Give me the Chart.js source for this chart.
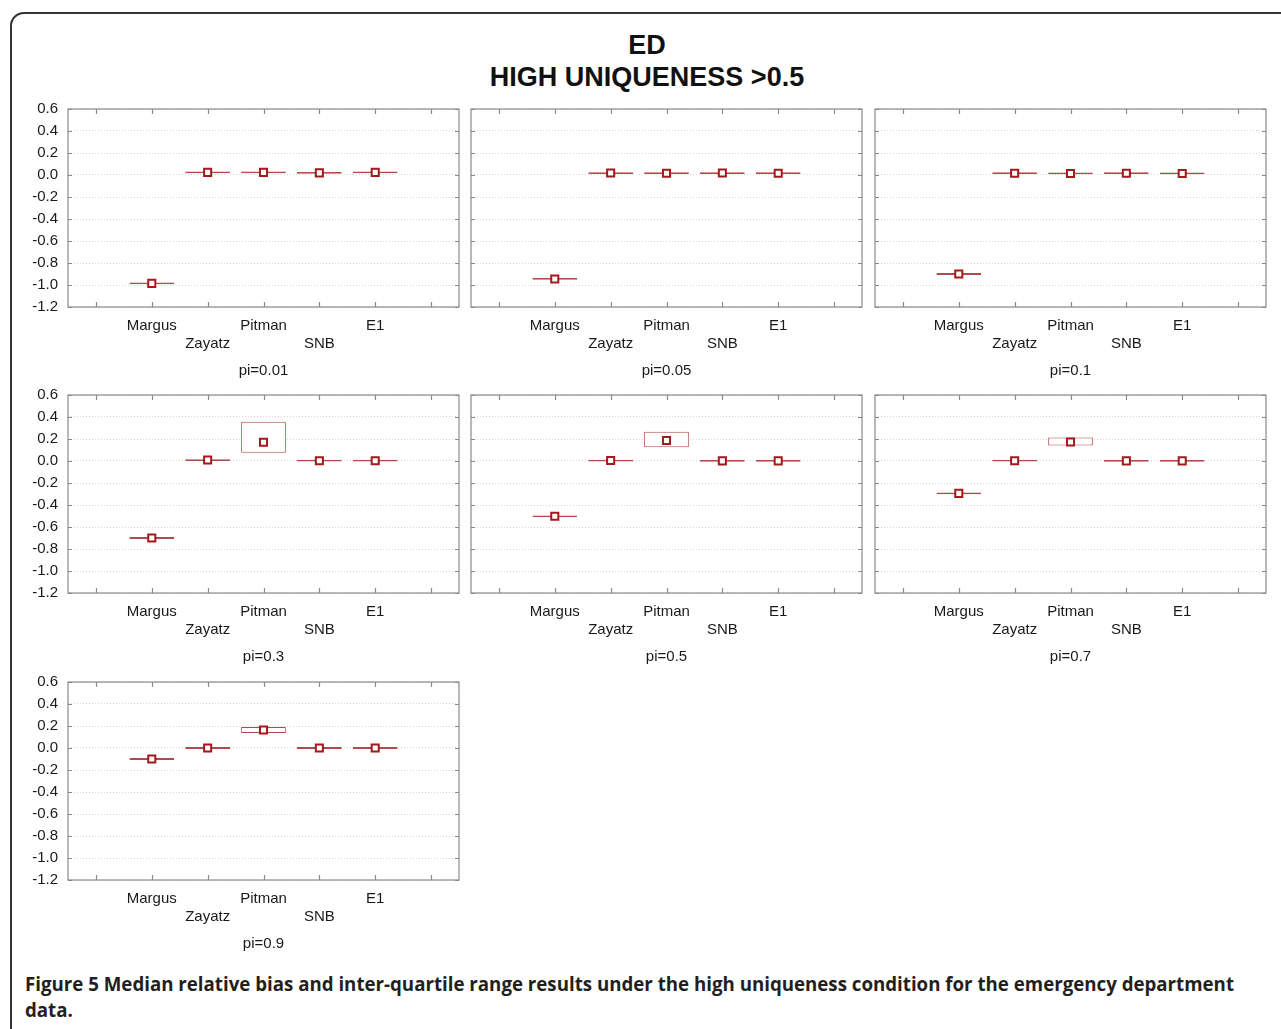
<!DOCTYPE html>
<html>
<head>
<meta charset="utf-8">
<script src="https://cdn.jsdelivr.net/npm/chart.js@4/dist/chart.umd.min.js"></script>
<style>
  html, body { margin: 0; padding: 0; background: #fff; }
  body { width: 1281px; height: 1029px; position: relative; overflow: hidden; }
  .frame {
    position: absolute; left: 10px; top: 12px; width: 1320px; height: 1060px;
    border: 2px solid #333; border-radius: 14px; box-sizing: border-box;
  }
  .title {
    position: absolute; left: 0; width: 1294px; text-align: center;
    font: bold 27px "Liberation Sans", Arial, sans-serif; color: #111;
  }
  canvas { position: absolute; }
  .caption {
    position: absolute; left: 25px; top: 971px; width: 1256px;
    font: 700 18.7px "Open Sans", sans-serif; line-height: 26px; color: #231f20;
    white-space: nowrap;
  }
</style>
</head>
<body>
<div class="frame"></div>
<div class="title" style="top:30px">ED</div>
<div class="title" style="top:62px">HIGH UNIQUENESS &gt;0.5</div>
<div id="panels"></div>
<div class="caption">Figure 5 Median relative bias and inter-quartile range results under the high uniqueness condition for the emergency department<br>data.</div>

<script>
// categories (blank slots at both ends of each axis)
const methods = ['Margus', 'Zayatz', 'Pitman', 'SNB', 'E1'];
const piLabels = ['pi=0.01', 'pi=0.05', 'pi=0.1', 'pi=0.3', 'pi=0.5', 'pi=0.7', 'pi=0.9'];
const yTicks = [0.6, 0.4, 0.2, 0.0, -0.2, -0.4, -0.6, -0.8, -1.0, -1.2];

// median relative bias, one row per panel
const medians = [
  [-0.985, 0.024, 0.024, 0.019, 0.024],
  [-0.945, 0.018, 0.016, 0.018, 0.016],
  [-0.900, 0.016, 0.014, 0.016, 0.014],
  [-0.700, 0.009, 0.170, 0.003, 0.003],
  [-0.503, 0.004, 0.187, 0.001, 0.001],
  [-0.294, 0.003, 0.173, 0.001, 0.001],
  [-0.100, 0.000, 0.164, 0.000, 0.000]
];
// 25th percentile
const lowerQ = [
  [-0.993, 0.016, 0.016, 0.011, 0.016],
  [-0.953, 0.010, 0.008, 0.010, 0.008],
  [-0.908, 0.008, 0.006, 0.008, 0.006],
  [-0.708, 0.001, 0.075, -0.005, -0.005],
  [-0.511, -0.004, 0.126, -0.007, -0.007],
  [-0.302, -0.005, 0.140, -0.007, -0.007],
  [-0.108, -0.008, 0.136, -0.008, -0.008]
];
// 75th percentile
const upperQ = [
  [-0.977, 0.032, 0.032, 0.027, 0.032],
  [-0.937, 0.026, 0.024, 0.026, 0.024],
  [-0.892, 0.024, 0.022, 0.024, 0.022],
  [-0.692, 0.017, 0.357, 0.011, 0.011],
  [-0.495, 0.012, 0.266, 0.009, 0.009],
  [-0.286, 0.011, 0.213, 0.009, 0.009],
  [-0.092, 0.008, 0.190, 0.008, 0.008]
];

const FONT = '"Liberation Sans", Arial, sans-serif';
const colLefts = [68, 471, 875];
const rowTops = [109, 395, 682];
const AREA_W = 392, AREA_H = 198;
const Y_W = 38;

// frame and inward tick marks, like the original plot boxes
const framePlugin = {
  id: 'frame',
  afterDraw(chart) {
    const { ctx, chartArea: a, scales } = chart;
    ctx.save();
    ctx.strokeStyle = '#8a8a8a';
    ctx.lineWidth = 1.2;
    ctx.strokeRect(a.left, a.top, a.right - a.left, a.bottom - a.top);
    ctx.beginPath();
    for (let i = 0; i < scales.x.ticks.length; i++) {
      const px = Math.round(scales.x.getPixelForTick(i)) + 0.5;
      ctx.moveTo(px, a.top); ctx.lineTo(px, a.top + 5);
      ctx.moveTo(px, a.bottom); ctx.lineTo(px, a.bottom - 5);
    }
    yTicks.forEach(v => {
      const py = Math.round(scales.y.getPixelForValue(v)) + 0.5;
      ctx.moveTo(a.left, py); ctx.lineTo(a.left + 4, py);
      ctx.moveTo(a.right, py); ctx.lineTo(a.right - 4, py);
    });
    ctx.stroke();
    ctx.restore();
  }
};

function makePanel(p) {
  const col = p % 3, row = Math.floor(p / 3);
  const canvas = document.createElement('canvas');
  const w = Y_W + AREA_W + 6, h = 9 + AREA_H + 78;
  canvas.width = w; canvas.height = h;
  canvas.style.left = (colLefts[col] - Y_W) + 'px';
  canvas.style.top = (rowTops[row] - 9) + 'px';
  document.getElementById('panels').appendChild(canvas);

  const labels = [''].concat(methods, ['']);
  const boxes = [null].concat(methods.map((m, i) => [lowerQ[p][i], upperQ[p][i]]), [null]);
  const meds = [null].concat(medians[p], [null]);

  new Chart(canvas, {
    data: {
      labels: labels,
      datasets: [{
        type: 'line',
        data: meds,
        showLine: false,
        pointStyle: 'rect',
        pointRadius: 5,
        pointBorderWidth: 2,
        pointBackgroundColor: '#ffffff',
        pointBorderColor: '#a3191c',
        order: 1
      }, {
        type: 'bar',
        data: boxes,
        backgroundColor: '#ffffff',
        borderColor: '#b04a4c',
        borderWidth: 1,
        borderSkipped: false,
        barPercentage: 0.8,
        categoryPercentage: 1,
        order: 2
      }]
    },
    options: {
      responsive: false,
      animation: false,
      layout: { padding: { top: 9, right: 6, bottom: 0, left: 0 } },
      plugins: { legend: { display: false }, tooltip: { enabled: false } },
      scales: {
        x: {
          type: 'category',
          offset: true,
          grid: { display: false },
          border: { display: false },
          afterFit: s => { s.height = 78; s.paddingLeft = 0; s.paddingRight = 0; },
          ticks: {
            autoSkip: false,
            maxRotation: 0,
            padding: 2,
            color: '#1a1a1a',
            font: { family: FONT, size: 15, lineHeight: 1.2 },
            callback: function (value, index) {
              const lab = this.getLabelForValue(value);
              return index % 2 === 0 ? ['', lab] : lab;
            }
          },
          title: {
            display: true,
            text: piLabels[p],
            color: '#1a1a1a',
            font: { family: FONT, size: 15, lineHeight: 1.2 },
            padding: { top: 0, bottom: 5 }
          }
        },
        y: {
          min: -1.2,
          max: 0.6,
          // same plot box in every column, labels or not
          afterFit: s => { s.width = Y_W; s.paddingTop = 0; s.paddingBottom = 0; },
          afterBuildTicks: s => { s.ticks = yTicks.map(v => ({ value: v })); },
          border: { display: false, dash: [1, 2] },
          grid: {
            color: '#d4d4d4',
            lineWidth: 1,
            drawTicks: false
          },
          ticks: {
            display: col === 0,
            autoSkip: false,
            padding: 10,
            color: '#1a1a1a',
            font: { family: FONT, size: 15, lineHeight: 1.2 },
            callback: v => (Math.round(v * 10) / 10).toFixed(1)
          }
        }
      }
    },
    plugins: [framePlugin]
  });
}

for (let p = 0; p < piLabels.length; p++) makePanel(p);
</script>
</body>
</html>
